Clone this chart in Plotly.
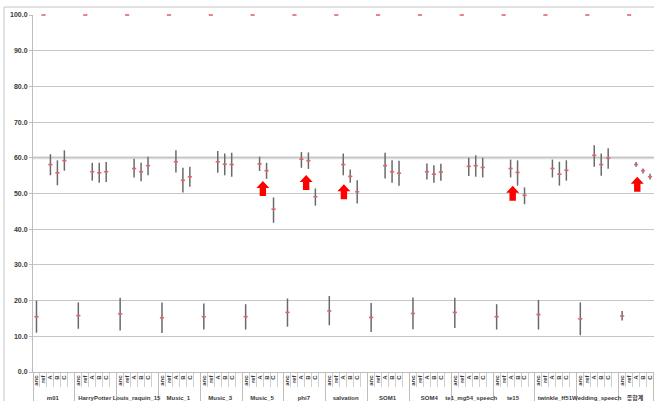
import plotly.graph_objects as go

# Listening-test scores per item: mean and confidence interval for each condition
groups = ["m01", "HarryPotter", "Louis_raquin_15", "Music_1", "Music_3", "Music_5",
          "phi7", "salvation", "SOM1", "SOM4", "te1_mg54_speech", "te15",
          "twinkle_ff51", "Wedding_speech", "종합계"]
conditions = ["anc", "ref", "A", "B", "C"]

anc_mean = [15.5, 15.8, 16.3, 15.2, 15.5, 15.5, 16.7, 17.1, 15.3, 16.4, 16.7, 15.5, 16.1, 14.9, 15.7]
anc_hi = [20.0, 19.5, 20.8, 19.5, 19.2, 19.0, 20.6, 21.3, 19.3, 20.9, 20.8, 19.0, 20.2, 19.5, 17.1]
anc_lo = [11.0, 12.1, 11.6, 10.9, 11.9, 11.9, 12.7, 13.1, 11.2, 12.0, 12.3, 11.9, 11.9, 10.3, 14.4]

ref_mean = [100.0, 100.0, 100.0, 100.0, 100.0, 100.0, 100.0, 100.0,
            100.0, 100.0, 100.0, 100.0, 100.0, 100.0, 100.0]

A_mean = [58.1, 56.1, 57.0, 58.9, 58.9, 58.3, 59.6, 58.1, 57.8, 56.1, 57.6, 57.0, 57.0, 60.7, 58.1]
A_hi = [61.0, 58.6, 59.7, 62.1, 61.9, 60.3, 61.6, 61.2, 61.4, 58.4, 60.0, 59.5, 59.5, 63.5, 58.8]
A_lo = [55.1, 53.6, 54.5, 55.9, 55.8, 56.3, 57.2, 55.1, 54.2, 53.9, 54.9, 54.5, 54.5, 57.5, 57.5]

B_mean = [55.8, 55.8, 56.1, 53.7, 58.2, 56.4, 59.2, 54.8, 56.1, 55.4, 57.8, 55.9, 55.4, 58.1, 56.4]
B_hi = [59.3, 58.6, 58.6, 57.2, 61.2, 58.6, 61.5, 56.7, 59.3, 57.9, 60.7, 59.3, 58.9, 61.2, 57.0]
B_lo = [52.3, 53.0, 53.4, 50.3, 55.1, 54.1, 56.9, 53.0, 53.0, 53.0, 54.7, 52.2, 52.2, 55.0, 55.6]

C_mean = [59.2, 56.1, 57.8, 54.7, 58.1, 45.6, 49.1, 50.5, 55.7, 56.0, 57.3, 49.5, 56.5, 59.9, 54.7]
C_hi = [62.1, 58.8, 60.3, 57.5, 61.4, 48.9, 51.4, 53.7, 59.2, 58.3, 60.0, 51.7, 59.3, 62.7, 55.5]
C_lo = [56.4, 53.2, 55.1, 51.9, 54.7, 41.8, 46.6, 47.2, 52.2, 53.6, 54.5, 47.0, 53.6, 56.9, 53.9]

# Highlighted conditions: (slot position on the category axis, arrow tip value)
arrow_slots = [32.47, 38.68, 44.09, 68.3, 86.17]
arrow_tips = [53.5, 55.2, 52.6, 52.2, 54.7]

# Build a two-level category axis; every item gets an extra blank slot as spacer
means = {"anc": anc_mean, "ref": ref_mean, "A": A_mean, "B": B_mean, "C": C_mean}
his = {"anc": anc_hi, "ref": ref_mean, "A": A_hi, "B": B_hi, "C": C_hi}
los = {"anc": anc_lo, "ref": ref_mean, "A": A_lo, "B": B_lo, "C": C_lo}

outer, inner, ys, eplus, eminus = [], [], [], [], []
for gi, g in enumerate(groups):
    for c in conditions + [" "]:
        outer.append(g)
        inner.append(c)
        if c == " ":
            ys.append(None)
            eplus.append(None)
            eminus.append(None)
        else:
            m = means[c][gi]
            ys.append(m)
            eplus.append(round(his[c][gi] - m, 2))
            eminus.append(round(m - los[c][gi], 2))

fig = go.Figure()
fig.add_trace(go.Scatter(
    x=[outer, inner], y=ys, mode="markers", cliponaxis=False,
    marker=dict(symbol="line-ew-open", size=3, color="#e46469",
                line=dict(color="#e46469", width=1.6)),
    error_y=dict(type="data", array=eplus, arrayminus=eminus, visible=True,
                 color="#6a6a6a", thickness=1.5, width=0),
    showlegend=False, hoverinfo="y",
))

x_right = 88.57
span = x_right + 0.5

shapes = []
# outer chart-area border
shapes.append(dict(type="rect", xref="paper", yref="paper",
                   x0=(4 - 33) / 621, x1=1.2, y0=-0.3, y1=(372 - 7) / 357,
                   line=dict(color="#c4c4c4", width=1), layer="below"))
# emphasised 60 line
shapes.append(dict(type="line", xref="paper", yref="y", x0=0, x1=1, y0=60, y1=60,
                   line=dict(color="#dcdcdc", width=3), layer="below"))
# red up-arrows pointing at the conditions of interest
arrow_path = "M 0,0 L 6.5,-7 L 3.2,-7 L 3.2,-15 L -3.2,-15 L -3.2,-7 L -6.5,-7 Z"
for s, t in zip(arrow_slots, arrow_tips):
    shapes.append(dict(type="path", xref="paper", yref="y",
                       xsizemode="pixel", ysizemode="pixel",
                       xanchor=(s + 0.5) / span, yanchor=t,
                       path=arrow_path,
                       fillcolor="#ff0000", line=dict(width=0)))

tick_font = dict(family="Liberation Sans, Noto Sans CJK KR, sans-serif", size=7,
                 color="#3a3a3a", weight="bold")

fig.update_layout(
    width=654, height=401,
    margin=dict(l=33, r=0, t=15, b=29),
    paper_bgcolor="white", plot_bgcolor="white",
    shapes=shapes,
    xaxis=dict(
        type="multicategory", range=[-0.5, x_right],
        tickmode="linear", tick0=0, dtick=1,
        showline=True, linecolor="#bdbdbd", linewidth=1,
        ticks="outside", ticklen=14, tickcolor="#cfcfcf", tickson="boundaries",
        tickangle=-90, tickfont=dict(tick_font, size=6),
        showdividers=True, dividercolor="#bdbdbd", dividerwidth=1,
        showgrid=False, zeroline=False,
    ),
    yaxis=dict(
        range=[0, 100], dtick=10, tickformat=".1f",
        showgrid=True, gridcolor="#c6c6c6", gridwidth=1,
        showline=True, linecolor="#bdbdbd", linewidth=1,
        ticks="outside", ticklen=3, tickcolor="#bdbdbd",
        tickfont=tick_font, zeroline=False,
    ),
)

fig.write_html("out.html")
